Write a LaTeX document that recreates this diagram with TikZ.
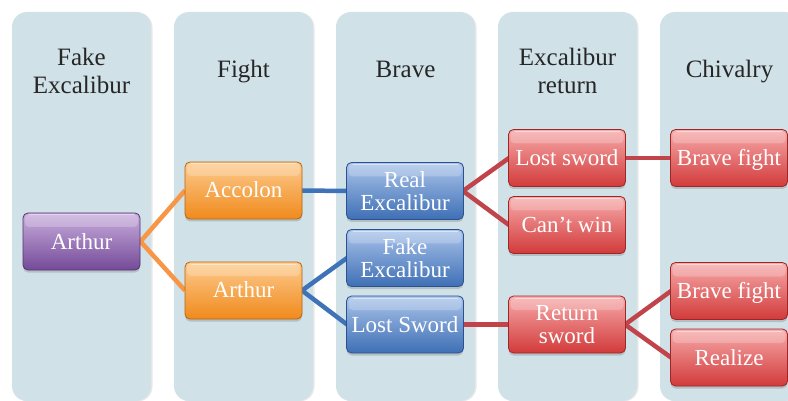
\documentclass[tikz,border=0pt]{standalone}
\usepackage{fontspec}
\setmainfont{Liberation Serif}
\usetikzlibrary{shadows}

\definecolor{lanebg}{HTML}{D0E1E8}
\definecolor{headtext}{HTML}{262626}
% node fills: light top, mid, dark bottom, rim
\definecolor{purA}{HTML}{C9AEDD}\definecolor{purB}{HTML}{9E78BE}\definecolor{purC}{HTML}{744A98}\definecolor{purD}{HTML}{553470}
\definecolor{orgA}{HTML}{FDCB8E}\definecolor{orgB}{HTML}{F9A44A}\definecolor{orgC}{HTML}{F08A1C}\definecolor{orgD}{HTML}{B8650F}
\definecolor{bluA}{HTML}{AAC4EA}\definecolor{bluB}{HTML}{6F97D2}\definecolor{bluC}{HTML}{3E6FB5}\definecolor{bluD}{HTML}{2B5290}
\definecolor{redA}{HTML}{F7AAAA}\definecolor{redB}{HTML}{EB6B6B}\definecolor{redC}{HTML}{D23A3A}\definecolor{redD}{HTML}{9E2626}
% connector colours
\definecolor{lnorg}{HTML}{F79646}
\definecolor{lnblu}{HTML}{3F73B8}
\definecolor{lnred}{HTML}{C0444A}

\tikzset{
  lane/.style={fill=lanebg, rounded corners=15pt,
    drop shadow={shadow xshift=1.5pt, shadow yshift=-0.5pt, opacity=0.18}},
  header/.style={text=headtext, align=center,
    font=\fontsize{25}{28}\selectfont, inner sep=0pt},
  box/.style={rounded corners=5pt, minimum width=117pt, minimum height=57pt,
    inner sep=0pt, align=center, text=white, line width=0.8pt,
    font=\fontsize{23}{23.5}\selectfont,
    drop shadow={shadow xshift=0pt, shadow yshift=-2.5pt, opacity=0.35},
    % bevel: bright rim along the top inside edge
    path picture={
      \fill[white, opacity=0.22, rounded corners=4pt]
        ([xshift=2pt, yshift=-1.5pt]path picture bounding box.north west)
        rectangle ([xshift=-2pt, yshift=-14pt]path picture bounding box.north east);
      \draw[white, opacity=0.45, line width=1pt]
        ([xshift=6pt, yshift=-2pt]path picture bounding box.north west)
        -- ([xshift=-6pt, yshift=-2pt]path picture bounding box.north east);
    }},
  oneline/.style={text height=15pt, text depth=0pt},
  purbox/.style={box, draw=purD, top color=purA, middle color=purB, bottom color=purC},
  orgbox/.style={box, draw=orgD, top color=orgA, middle color=orgB, bottom color=orgC},
  blubox/.style={box, draw=bluD, top color=bluA, middle color=bluB, bottom color=bluC},
  redbox/.style={box, draw=redD, top color=redA, middle color=redB, bottom color=redC},
  link/.style={line width=4.5pt},
}

\begin{document}
\begin{tikzpicture}[x=1pt, y=-1pt]
  \useasboundingbox (0,0) rectangle (788,401);
  \fill[white] (0,0) rectangle (788,401);

  % swim lanes
  \foreach \lx in {12,174,336,498,660}
    \path[lane] (\lx,12) rectangle (\lx+139,401);

  % lane headings
  \node[header, anchor=center] (h1) at (81.5,70.5) {Fake\\Excalibur};
  \node[header, anchor=base]   (h2) at (243.5,78) {Fight};
  \node[header, anchor=base]   (h3) at (405.5,78) {Brave};
  \node[header, anchor=center] (h4) at (567.5,70.5) {Excalibur\\return};
  \node[header, anchor=base]   (h5) at (729.5,78) {Chivalry};

  % connector end points (drawn first so the boxes sit on top)
  \coordinate (p1e) at (140.5,241.5);
  \coordinate (o1w) at (185,190.5);
  \coordinate (o2w) at (185,290.5);
  \coordinate (o1e) at (302,190.5);
  \coordinate (o2e) at (302,290.5);
  \coordinate (b1w) at (347,191);
  \coordinate (b2w) at (347,258);
  \coordinate (b3w) at (347,324.5);
  \coordinate (b1e) at (463,191);
  \coordinate (b3e) at (463,324.5);
  \coordinate (r1w) at (509,158);
  \coordinate (r2w) at (509,225);
  \coordinate (r3w) at (509,324.5);
  \coordinate (r1e) at (625,158);
  \coordinate (r3e) at (625,324.5);
  \coordinate (r4w) at (671,158);
  \coordinate (r5w) at (671,291);
  \coordinate (r6w) at (671,357.5);

  \draw[link, lnorg] (o1w) -- (p1e) -- (o2w);
  \draw[link, lnblu] (o1e) -- (b1w);
  \draw[link, lnblu] (b2w) -- (o2e) -- (b3w);
  \draw[link, lnred] (r1w) -- (b1e) -- (r2w);
  \draw[link, lnred] (r1e) -- (r4w);
  \draw[link, lnred] (b3e) -- (r3w);
  \draw[link, lnred] (r5w) -- (r3e) -- (r6w);

  % boxes
  \node[purbox, oneline] (p1) at (81.5,241.5) {Arthur};
  \node[orgbox, oneline] (o1) at (243.5,190.5) {Accolon};
  \node[orgbox, oneline] (o2) at (243.5,290.5) {Arthur};
  \node[blubox] (b1) at (405,191) {Real\\Excalibur};
  \node[blubox] (b2) at (405,258) {Fake\\Excalibur};
  \node[blubox, oneline] (b3) at (405,324.5) {Lost Sword};
  \node[redbox, oneline] (r1) at (567,158) {Lost sword};
  \node[redbox, oneline] (r2) at (567,225) {Can’t win};
  \node[redbox] (r3) at (567,324.5) {Return\\sword};
  \node[redbox, oneline] (r4) at (729,158) {Brave fight};
  \node[redbox, oneline] (r5) at (729,291) {Brave fight};
  \node[redbox, oneline] (r6) at (729,357.5) {Realize};
\end{tikzpicture}
\end{document}
